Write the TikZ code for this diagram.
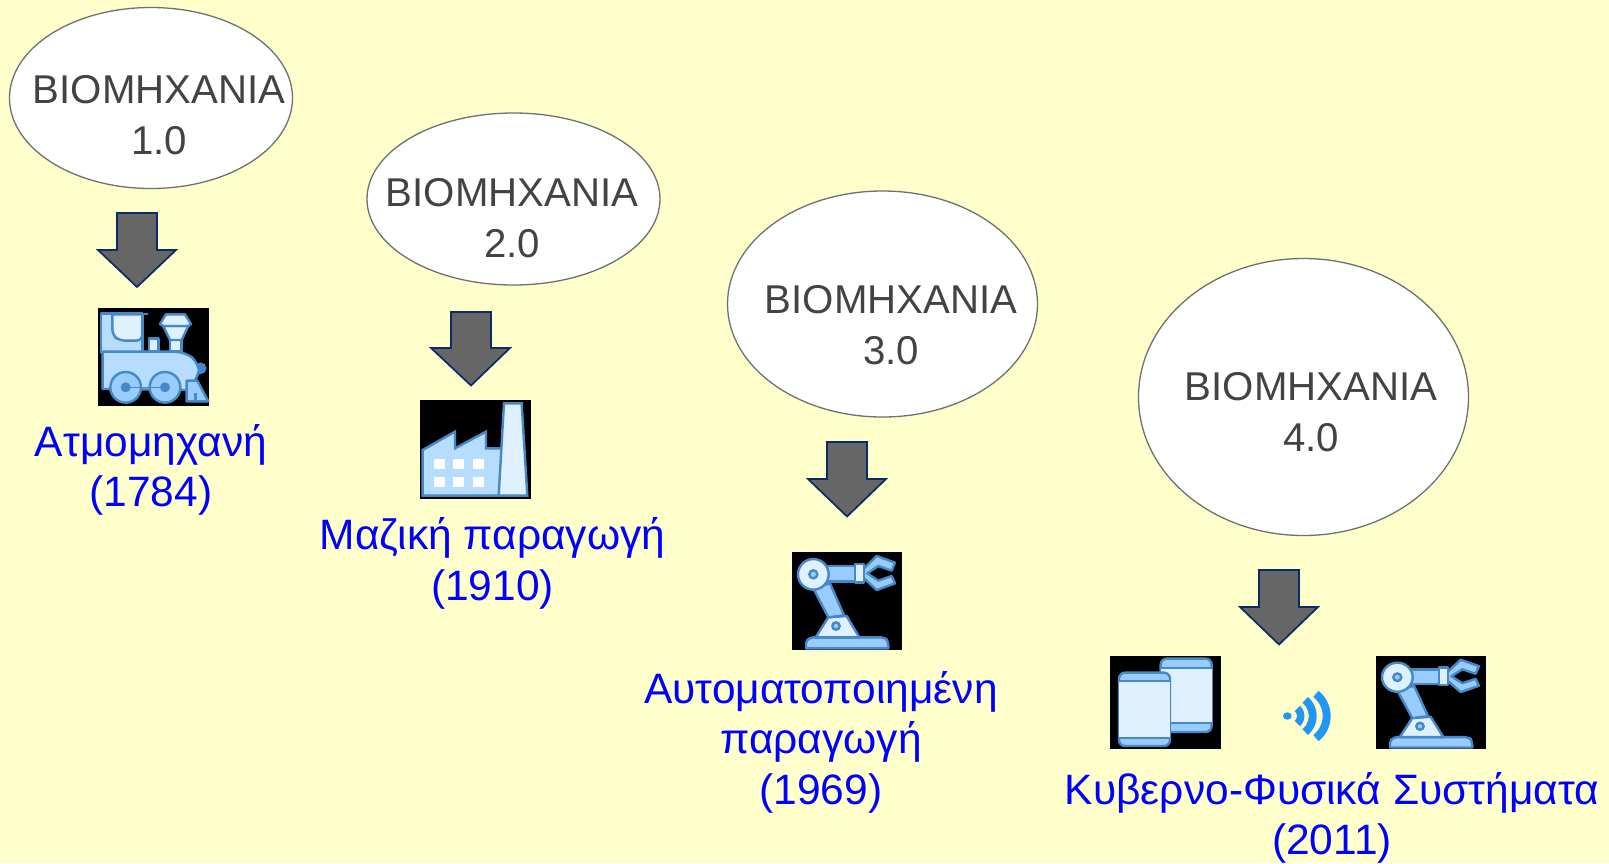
\documentclass[tikz,border=0pt]{standalone}
\usepackage{fontspec}
\setmainfont{Liberation Sans}
\usetikzlibrary{shapes.geometric}
\definecolor{bgy}{HTML}{FFFFCC}
\definecolor{arrowfill}{HTML}{666666}
\definecolor{arrowline}{HTML}{0B2A66}
\definecolor{ellline}{HTML}{707070}
\definecolor{graytext}{HTML}{434343}
\definecolor{bluetext}{HTML}{0000FF}
\definecolor{icdark}{HTML}{4788C7}
\definecolor{icmid}{HTML}{98CCFD}
\definecolor{icbody}{HTML}{B6DCFE}
\definecolor{iclight}{HTML}{DFF0FE}
\definecolor{icwifi}{HTML}{2196F3}
\tikzset{
  x=1pt,y=-1pt,
  bubble/.style={draw=ellline,fill=white,line width=1.3pt,ellipse,inner sep=0pt,outer sep=0pt},
  eratext/.style={text=graytext,font=\fontsize{40.2}{51}\selectfont,align=center,inner sep=0pt},
  inventtext/.style={text=bluetext,font=\fontsize{42.5}{50.5}\selectfont,align=center,inner sep=0pt},
  blockarrow/.style={draw=arrowline,fill=arrowfill,line width=1.7pt,line join=miter},
  iconbg/.style={fill=black,draw=none},
  icm/.style={draw=icdark,fill=icmid,line width=2.4pt,line join=round},
  icb/.style={draw=icdark,fill=icbody,line width=2.4pt,line join=round},
  icl/.style={draw=icdark,fill=iclight,line width=2.4pt,line join=round},
  icd/.style={draw=none,fill=icdark},
  zoomunits/.style={x=0.3333pt,y=-0.3333pt},
  wifiarc/.style={draw=icwifi,line width=#1,line cap=butt},
  pics/robot/.style={code={
    \begin{scope}[zoomunits]
    \fill[iconbg] (36,36) rectangle (366,330);
    \draw[icm,rounded corners=2pt] (78,325) -- (78,305) [rounded corners=4pt] -- (88,292) -- (315,292) -- (325,305) [sharp corners] -- (325,325) -- cycle;
    \draw[icl] (107,292) -- (145,232) -- (200,228) -- (238,292) -- cycle;
    \draw[draw=icdark,fill=icmid,line width=2.4pt] (168,258) circle (11);
    \draw[icm] (100,145) -- (150,130) -- (192,226) -- (145,232) -- cycle;
    \draw[icm] (135,78) rectangle (228,125);
    \draw[icm] (252,85) -- (290,48) -- (345,68) -- (335,92) -- (295,78) -- (262,100) -- (295,122) -- (335,108) -- (345,130) -- (290,150) -- (252,115) -- cycle;
    \draw[icl] (225,72) rectangle (252,127);
    \draw[icl] (100,103) circle (46);
    \draw[draw=icdark,fill=icmid,line width=2.4pt] (100,103) circle (12);
    \end{scope}
  }},
}
\begin{document}
\begin{tikzpicture}
\useasboundingbox (0,0) rectangle (1609,863);
\fill[bgy] (0,0) rectangle (1609,863);

% ellipses
\node[bubble,minimum width=283pt,minimum height=181pt] (e1) at (151,98) {};
\node[bubble,minimum width=293pt,minimum height=172pt] (e2) at (513.5,199) {};
\node[bubble,minimum width=310pt,minimum height=226pt] (e3) at (882.5,304) {};
\node[bubble,minimum width=330pt,minimum height=277pt] (e4) at (1303.5,397) {};

\node[eratext] (t1) at (159,115.5) {ΒΙΟΜΗΧΑΝΙΑ\\1.0};
\node[eratext] (t2) at (512,218.5) {ΒΙΟΜΗΧΑΝΙΑ\\2.0};
\node[eratext] (t3) at (891,325) {ΒΙΟΜΗΧΑΝΙΑ\\3.0};
\node[eratext] (t4) at (1311,412.5) {ΒΙΟΜΗΧΑΝΙΑ\\4.0};

% block arrows
\draw[blockarrow] (117,213) -- (157,213) -- (157,250) -- (176,250) -- (137,287) -- (98,250) -- (117,250) -- cycle;
\draw[blockarrow] (451,312) -- (491,312) -- (491,348) -- (510,348) -- (471,385.5) -- (431,348) -- (451,348) -- cycle;
\draw[blockarrow] (827,442) -- (867,442) -- (867,479) -- (886,479) -- (847,516.5) -- (808,479) -- (827,479) -- cycle;
\draw[blockarrow] (1259,570) -- (1299,570) -- (1299,607) -- (1318,607) -- (1279,644.5) -- (1240,607) -- (1259,607) -- cycle;

% train
\begin{scope}[shift={(80,200)},zoomunits]
\fill[iconbg] (54,324) rectangle (387,617);
\draw[icd,draw=icdark,line width=1pt] (362,505) circle (16);
\draw[icb] (63,340) -- (187,340) -- (187,458) -- (63,458) -- cycle;
\draw[icdark,line width=2.4pt] (187,342) -- (204,342);
\draw[icl,rounded corners=6pt] (97,343) -- (97,405) -- (118,422) -- (187,422) [sharp corners] -- (187,343) -- cycle;
\draw[icl] (207,415) rectangle (235,455);
\draw[icl] (270,415) rectangle (305,455);
\draw[icl] (250,378) -- (325,378) -- (305,420) -- (270,420) -- cycle;
\draw[icl] (240,372) -- (258,343) -- (315,343) -- (333,372) -- (325,378) -- (250,378) -- cycle;
\draw[icb,rounded corners=10pt] (68,455) -- (315,455) -- (358,490) -- (358,530) [sharp corners] -- (318,570) -- (68,567) -- cycle;
\draw[icm] (137,562) circle (46);
\draw[icm] (255,562) circle (46);
\draw[draw=icdark,line width=1.2pt] (137,562) -- (255,562);
\fill[icdark] (137,562) circle (15);
\fill[icdark] (255,562) circle (15);
\draw[icm] (320,542) -- (352,542) -- (385,604) -- (320,604) -- cycle;
\fill[icdark] (342,604) rectangle (352,580);
\end{scope}

% factory
\begin{scope}[shift={(410,300)},zoomunits]
\fill[iconbg] (30,300) rectangle (363,597);
\draw[icb,line join=miter] (38,450) -- (135,395) -- (135,445) -- (228,395) -- (228,445) -- (275,445) -- (275,587) -- (38,587) -- cycle;
\draw[icl,line join=miter] (282,310) -- (335,310) -- (352,587) -- (266,587) -- cycle;
\foreach \wx in {72,130,188}{\foreach \wy in {478,530}{\fill[white] (\wx,\wy) rectangle ++(33,30);}}
\end{scope}

% robot 1
\pic at (780,540) {robot};

% phones
\begin{scope}[shift={(1100,640)},zoomunits]
\fill[iconbg] (30,48) rectangle (363,327);
\draw[icm,rounded corners=6pt] (182,56) rectangle (335,276);
\fill[iclight] (182,84) rectangle (335,250);
\draw[icdark,line width=1.8pt] (182,84) -- (335,84) (182,250) -- (335,250);
\draw[icm,rounded corners=6pt] (57,98) rectangle (210,318);
\fill[iclight] (58,122) rectangle (209,295);
\draw[icdark,line width=1.8pt] (57,122) -- (210,122) (57,295) -- (210,295);
% wifi
\fill[icwifi] (562,228) ellipse (13 and 11);
\draw[wifiarc=7.5pt] plot[smooth,domain=-48:48,samples=25] ({572+30*cos(\x)},{228+30*sin(\x)});
\draw[wifiarc=8pt] plot[smooth,domain=-50:50,samples=25] ({575+63*cos(\x)},{228+63*sin(\x)});
\draw[wifiarc=8pt] plot[smooth,domain=-52:52,samples=25] ({596+84*cos(\x)},{228+84*sin(\x)});
\end{scope}

% robot 2
\pic[yscale=0.95] at (1364,644.6) {robot};

\node[inventtext] (l1) at (151,470) {Ατμομηχανή\\(1784)};
\node[inventtext] (l2) at (492.5,563.5) {Μαζική παραγωγή\\(1910)};
\node[inventtext] (l3) at (821,742) {Αυτοματοποιημένη\\παραγωγή\\(1969)};
\node[inventtext] (l4) at (1332,818) {Κυβερνο-Φυσικά Συστήματα\\(2011)};
\end{tikzpicture}
\end{document}
